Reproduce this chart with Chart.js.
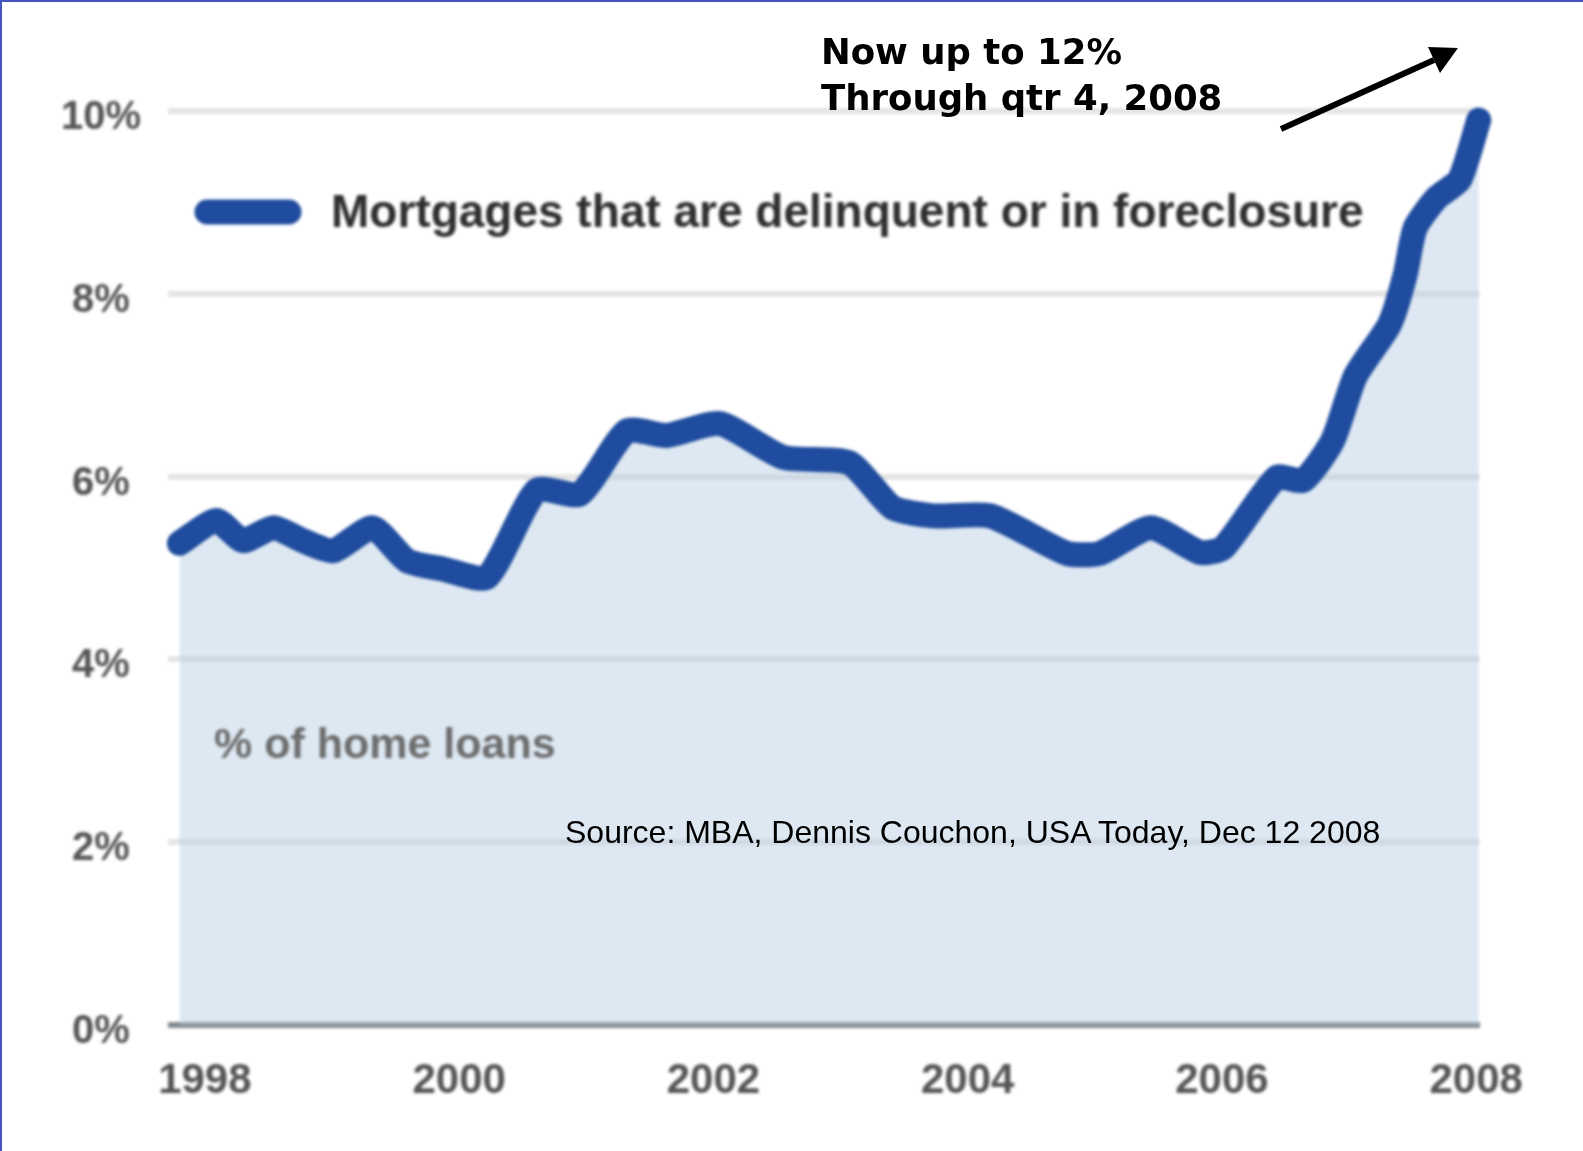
<!DOCTYPE html>
<html lang="en">
<head>
<meta charset="UTF-8">
<title>Mortgages delinquent or in foreclosure</title>
<script src="https://cdn.jsdelivr.net/npm/chart.js"></script>
<style>
  body { margin: 0; background: #fff; }
  .page { position: relative; width: 1583px; height: 1151px; overflow: hidden; background: #fff; }
  .page::before {
    content: ''; position: absolute; left: 0; top: 0; right: 0; bottom: 0;
    border-left: 2px solid #4454c2; border-top: 2px solid #4454c2;
    z-index: 3; pointer-events: none;
  }
  #chart { position: absolute; left: 0; top: 0; filter: blur(1.8px); }
  .note {
    position: absolute; left: 821px; top: 29px; z-index: 2;
    font: bold 35.5px "DejaVu Sans", Verdana, sans-serif; line-height: 46px; color: #000;
  }
  .source {
    position: absolute; left: 565px; top: 812px; z-index: 2;
    font: 32px "Liberation Sans", Arial, sans-serif; line-height: 40px; color: #000;
  }
  svg.arrow { position: absolute; left: 0; top: 0; z-index: 2; }
</style>
</head>
<body>
<div class="page">
  <canvas id="chart" width="1583" height="1151"></canvas>
  <div class="note">Now up to 12%<br>Through qtr 4, 2008</div>
  <div class="source">Source: MBA, Dennis Couchon, USA Today, Dec 12 2008</div>
  <svg class="arrow" width="1583" height="200">
    <line x1="1281" y1="129" x2="1434" y2="60" stroke="#000" stroke-width="6"/>
    <polygon points="1458,48 1440,73 1428,47" fill="#000"/>
  </svg>
</div>
<script>
// share of home loans delinquent or in foreclosure, 1998 - 2008
const periods = [1997.80, 1998.09, 1998.30, 1998.54, 1998.77, 1999.01, 1999.32, 1999.59,
  1999.87, 2000.22, 2000.61, 2000.95, 2001.32, 2001.63, 2002.05, 2002.55, 2003.07,
  2003.41, 2003.73, 2004.18, 2004.78, 2005.04, 2005.44, 2005.83, 2006.01, 2006.43,
  2006.64, 2006.87, 2007.05, 2007.32, 2007.44, 2007.52, 2007.69, 2007.87, 2008.02];
const rates = [5.27, 5.52, 5.30, 5.44, 5.30, 5.19, 5.44, 5.08,
  4.99, 4.90, 5.85, 5.81, 6.50, 6.45, 6.58, 6.21, 6.15,
  5.66, 5.57, 5.57, 5.16, 5.16, 5.44, 5.17, 5.22, 5.99,
  5.96, 6.39, 7.10, 7.67, 8.20, 8.72, 9.05, 9.25, 9.90];
const yearTicks = [1998, 2000, 2002, 2004, 2006, 2008];
const percentTicks = [0, 2, 4, 6, 8, 10];

const seriesLabel = 'Mortgages that are delinquent or in foreclosure';
const unitLabel = '% of home loans';
const lineBlue = '#1f4c9e';
const tickFont = '"Liberation Sans", Arial, sans-serif';

// legend and unit note sit inside the plot area
const insideLegend = {
  id: 'insideLegend',
  afterDatasetsDraw(chart) {
    const { ctx, chartArea } = chart;
    const x0 = chartArea.left;
    ctx.save();
    ctx.strokeStyle = lineBlue;
    ctx.lineWidth = 25;
    ctx.lineCap = 'round';
    ctx.beginPath();
    ctx.moveTo(x0 + 39, 212);
    ctx.lineTo(x0 + 121, 212);
    ctx.stroke();

    ctx.textBaseline = 'middle';
    ctx.fillStyle = '#2e2e2e';
    ctx.font = 'bold 46px ' + tickFont;
    ctx.fillText(seriesLabel, x0 + 163, 214);

    ctx.fillStyle = '#6c6c6c';
    ctx.font = 'bold 43px ' + tickFont;
    ctx.fillText(unitLabel, x0 + 46, 746);
    ctx.restore();
  }
};

new Chart(document.getElementById('chart'), {
  type: 'line',
  data: {
    datasets: [{
      label: seriesLabel,
      data: periods.map((p, i) => ({ x: p, y: rates[i] })),
      borderColor: lineBlue,
      borderWidth: 25,
      borderJoinStyle: 'round',
      borderCapStyle: 'round',
      backgroundColor: 'rgba(180, 203, 226, 0.45)',
      fill: 'origin',
      pointRadius: 0,
      tension: 0.2,
      clip: false
    }]
  },
  options: {
    responsive: false,
    devicePixelRatio: 1,
    animation: false,
    layout: { padding: { top: 111, right: 103, left: 0, bottom: 0 } },
    plugins: {
      legend: { display: false },
      tooltip: { enabled: false }
    },
    scales: {
      x: {
        type: 'linear',
        min: 1997.71,
        max: 2008.03,
        afterBuildTicks: s => { s.ticks = yearTicks.map(v => ({ value: v })); },
        afterFit: s => { s.height = 126; },
        grid: { display: false },
        border: { display: false },
        ticks: {
          callback: v => String(v),
          autoSkip: false,
          maxRotation: 0,
          padding: 23,
          color: '#555',
          font: { family: tickFont, size: 42, weight: 'bold' }
        }
      },
      y: {
        min: 0,
        max: 10,
        afterBuildTicks: s => { s.ticks = percentTicks.map(v => ({ value: v })); },
        afterFit: s => { s.width = 168; },
        border: { display: false },
        grid: {
          drawTicks: false,
          lineWidth: 6,
          color: c => c.tick && c.tick.value === 0 ? '#858a90' : '#e4e4e4'
        },
        ticks: {
          callback: v => v + '%',
          crossAlign: 'center',
          padding: 27,
          labelOffset: 7,
          color: '#555',
          font: { family: tickFont, size: 40, weight: 'bold' }
        }
      }
    }
  },
  plugins: [insideLegend]
});
</script>
</body>
</html>
